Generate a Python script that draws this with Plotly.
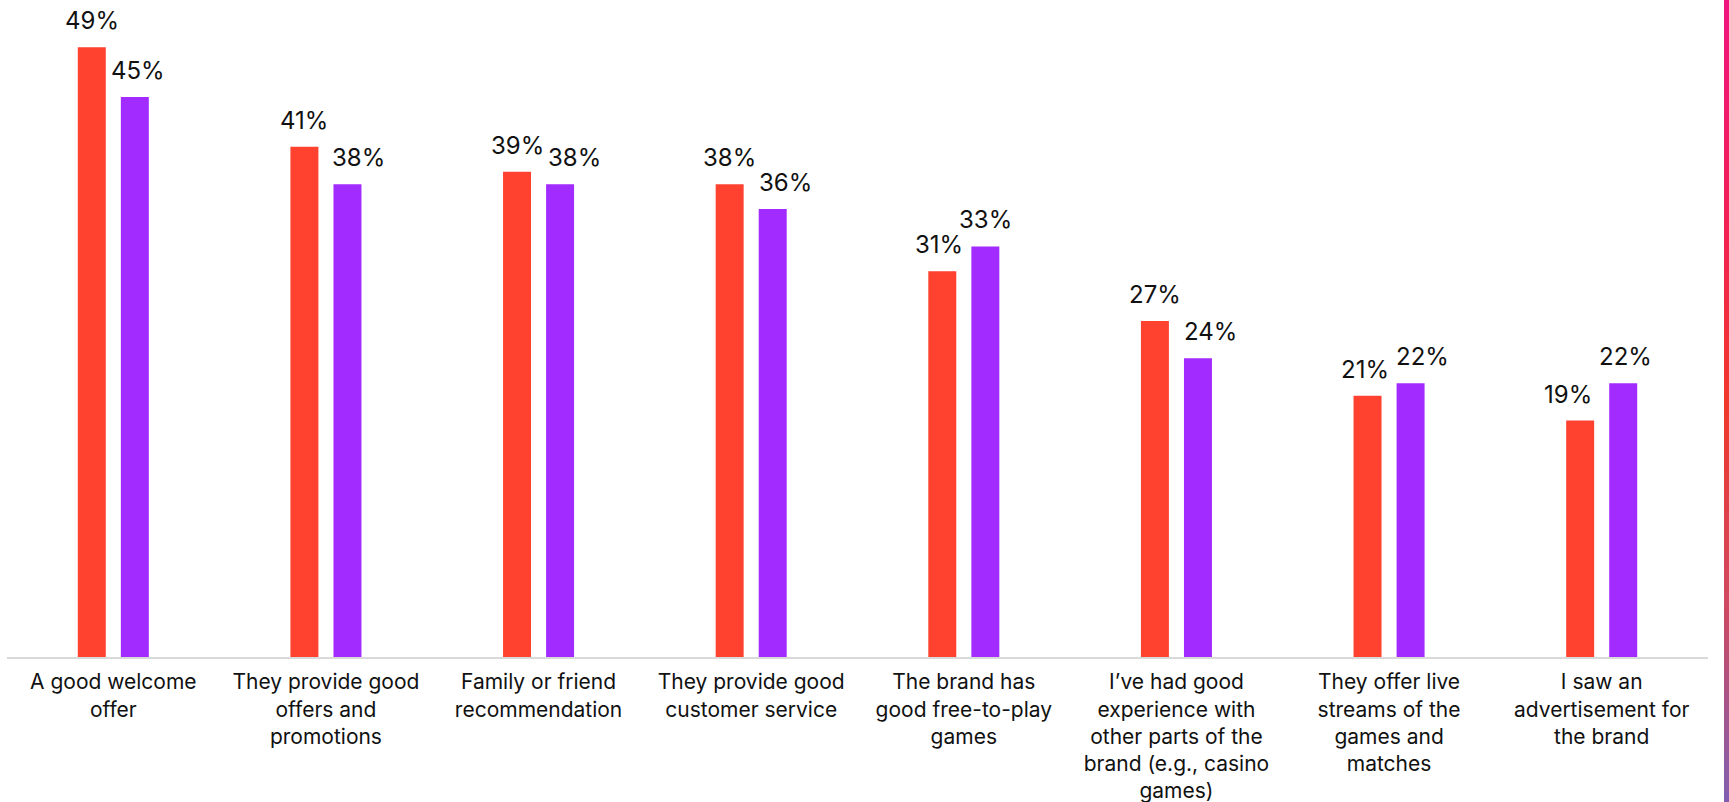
import plotly.graph_objects as go

# Reasons for choosing a betting brand, two respondent groups
categories = [
    "A good welcome<br>offer",
    "They provide good<br>offers and<br>promotions",
    "Family or friend<br>recommendation",
    "They provide good<br>customer service",
    "The brand has<br>good free-to-play<br>games",
    "I’ve had good<br>experience with<br>other parts of the<br>brand (e.g., casino<br>games)",
    "They offer live<br>streams of the<br>games and<br>matches",
    "I saw an<br>advertisement for<br>the brand",
]
series_a = [49, 41, 39, 38, 31, 27, 21, 19]
series_b = [45, 38, 38, 36, 33, 24, 22, 22]

# horizontal nudges (px) for value labels so neighbouring labels don't collide
nudge_a = [0, 0, 0, 0, -3, 0, -3, -12]
nudge_b = [3, 11, 14, 13, 0, 13, 12, 2]

RED = "#FF4130"
PURPLE = "#A22BFF"

W, H = 1729, 802
ML, MR, MT, MB = 7, 21, 0, 145
plot_w = W - ML - MR
plot_h = H - MT - MB

BARGAP, GROUPGAP = 0.595, 0.35
cat_px = plot_w / len(categories)
half_sep = cat_px * (1 - BARGAP) / 4  # distance from category centre to each bar centre

fig = go.Figure()
annotations = []
for vals, col, side, nudges in ((series_a, RED, -1, nudge_a), (series_b, PURPLE, 1, nudge_b)):
    fig.add_trace(go.Bar(
        x=categories, y=vals,
        marker=dict(color=col, line=dict(width=0)),
        hoverinfo="x+y",
    ))
    for c, v, nd in zip(categories, vals, nudges):
        annotations.append(dict(
            x=c, y=v, xref="x", yref="y",
            text=f"{v}%", showarrow=False,
            xanchor="center", yanchor="bottom",
            xshift=side * half_sep + nd, yshift=10,
            font=dict(family="Inter", size=24, color="#111111"),
        ))

# Thin vertical gradient accent along the right edge
stops = [
    (0.00, (240, 21, 127)),
    (0.25, (242, 30, 90)),
    (0.50, (240, 56, 42)),
    (0.75, (208, 72, 96)),
    (1.00, (128, 96, 176)),
]

def color_at(t):
    for (t0, c0), (t1, c1) in zip(stops[:-1], stops[1:]):
        if t <= t1:
            f = (t - t0) / (t1 - t0) if t1 > t0 else 0
            return "rgb(%d,%d,%d)" % tuple(round(a + (b - a) * f) for a, b in zip(c0, c1))
    return "rgb(%d,%d,%d)" % stops[-1][1]

def px_x(p):
    return (p - ML) / plot_w

def px_y(p):
    return (MT + plot_h - p) / plot_h

shapes = []
n = 80
for i in range(n):
    y0 = H * i / n
    y1 = H * (i + 1) / n + 1
    shapes.append(dict(
        type="rect", xref="paper", yref="paper",
        x0=px_x(1724), x1=px_x(1730), y0=px_y(y1), y1=px_y(y0),
        fillcolor=color_at((i + 0.5) / n), line=dict(width=0), layer="above",
    ))

fig.update_layout(
    width=W, height=H,
    margin=dict(l=ML, r=MR, t=MT, b=MB, pad=0, autoexpand=False),
    paper_bgcolor="white", plot_bgcolor="white",
    barmode="group", bargap=BARGAP, bargroupgap=GROUPGAP,
    showlegend=False,
    shapes=shapes,
    annotations=annotations,
    xaxis=dict(
        showline=True, linecolor="#d9d9d9", linewidth=2,
        ticks="", showgrid=False, tickangle=0, automargin=False,
        ticklabelstandoff=5,
        tickfont=dict(family="Inter", size=21, color="#111111"),
        fixedrange=True,
    ),
    yaxis=dict(visible=False, range=[0, 52.8], fixedrange=True, automargin=False),
    font=dict(family="Inter"),
)

fig.write_html("out.html", config={"displayModeBar": False})
